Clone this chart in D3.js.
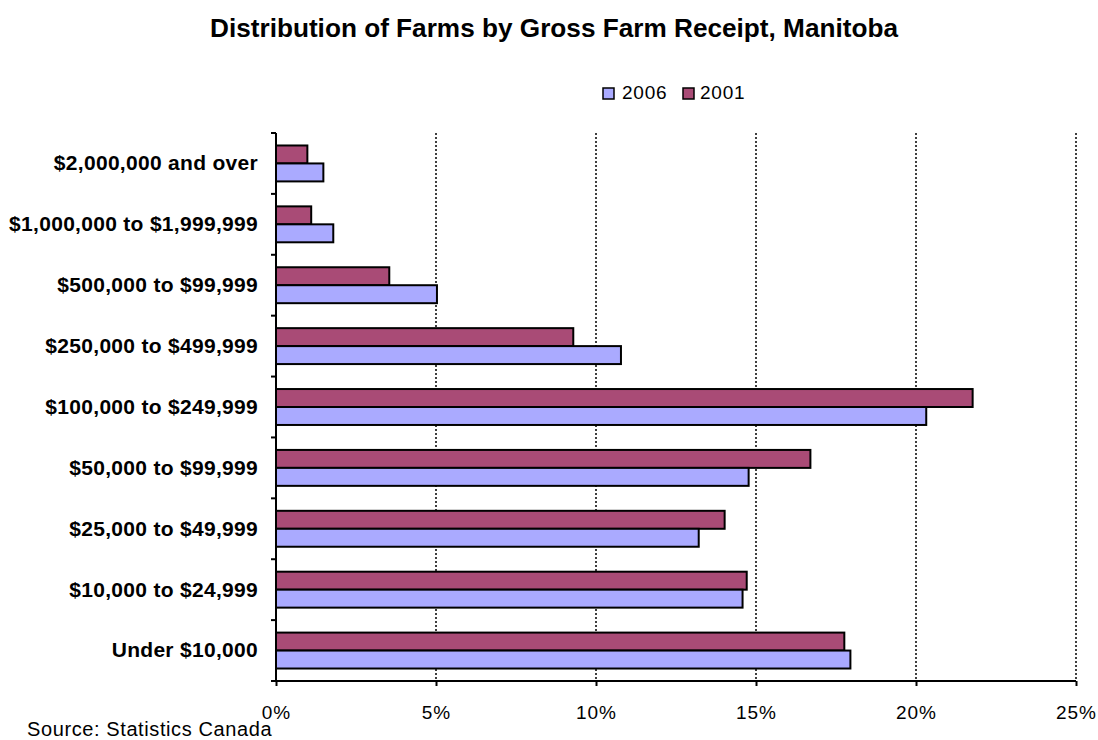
<!DOCTYPE html>
<html>
<head>
<meta charset="utf-8">
<script src="https://cdn.jsdelivr.net/npm/d3@7/dist/d3.min.js"></script>
<style>
  html, body { margin: 0; padding: 0; background: #fff; }
  svg { display: block; }
</style>
</head>
<body>
<svg id="chart" width="1098" height="740"></svg>
<script>
// Gross farm receipt classes, top to bottom
const categories = [
  "$2,000,000 and over",
  "$1,000,000 to $1,999,999",
  "$500,000 to $99,999",
  "$250,000 to $499,999",
  "$100,000 to $249,999",
  "$50,000 to $99,999",
  "$25,000 to $49,999",
  "$10,000 to $24,999",
  "Under $10,000"
];
// Share of farms (%) per class
const values2001 = [0.98, 1.10, 3.54, 9.29, 21.77, 16.70, 14.02, 14.71, 17.76];
const values2006 = [1.48, 1.79, 5.03, 10.78, 20.32, 14.77, 13.21, 14.58, 17.95];
const seriesNames = ["2006", "2001"];
const xTicks = [0, 5, 10, 15, 20, 25];

const colors = { "2006": "#AAAAFF", "2001": "#A94B76" };
const baseFont = "'Liberation Sans', Arial, sans-serif";

const svg = d3.select("#chart");
const plot = { left: 276, right: 1076, top: 133, bottom: 681 };

const x = d3.scaleLinear().domain([0, 25]).range([plot.left, plot.right]);
const y = d3.scaleBand().domain(categories).range([plot.top, plot.bottom])
  .paddingInner(0.41).paddingOuter(0.205);
const sub = d3.scaleBand().domain(["2001", "2006"]).range([0, y.bandwidth()]);

// Title
svg.append("text")
  .attr("x", 554).attr("y", 37)
  .attr("text-anchor", "middle")
  .attr("textLength", 688)
  .attr("lengthAdjust", "spacingAndGlyphs")
  .style("font-family", baseFont)
  .style("font-weight", "bold")
  .style("font-size", "25px")
  .text("Distribution of Farms by Gross Farm Receipt, Manitoba");

// Dotted vertical gridlines
svg.append("g").selectAll("line")
  .data(xTicks.filter(d => d > 0))
  .join("line")
  .attr("x1", d => x(d)).attr("x2", d => x(d))
  .attr("y1", plot.top).attr("y2", plot.bottom)
  .attr("stroke", "#000").attr("stroke-width", 1.5)
  .attr("stroke-dasharray", "2,2");

// Bars
const rows = categories.map((c, i) => ({ c, v2001: values2001[i], v2006: values2006[i] }));
const barG = svg.append("g");
[["2001", "v2001"], ["2006", "v2006"]].forEach(([name, key]) => {
  barG.selectAll(null)
    .data(rows)
    .join("rect")
    .attr("x", x(0))
    .attr("y", d => y(d.c) + sub(name))
    .attr("width", d => x(d[key]) - x(0))
    .attr("height", sub.bandwidth())
    .attr("fill", colors[name])
    .attr("stroke", "#000")
    .attr("stroke-width", 2);
});

// Y axis: category boundary ticks, labels centered in each band
const yAxisG = svg.append("g");
yAxisG.append("line")
  .attr("x1", plot.left).attr("x2", plot.left)
  .attr("y1", plot.top).attr("y2", plot.bottom)
  .attr("stroke", "#000").attr("stroke-width", 2);
const step = y.step();
yAxisG.selectAll(".btick")
  .data(d3.range(categories.length + 1))
  .join("line")
  .attr("x1", plot.left - 5).attr("x2", plot.left)
  .attr("y1", i => plot.top + i * step).attr("y2", i => plot.top + i * step)
  .attr("stroke", "#000").attr("stroke-width", 2);
yAxisG.selectAll("text")
  .data(categories)
  .join("text")
  .attr("x", 258)
  .attr("y", d => y(d) + y.bandwidth() / 2)
  .attr("dy", "0.33em")
  .attr("text-anchor", "end")
  .style("font-family", baseFont)
  .style("font-weight", "bold")
  .style("font-size", "21px")
  .style("letter-spacing", "0.3px")
  .text(d => d);

// X axis
const xAxis = d3.axisBottom(x).tickValues(xTicks).tickSize(5).tickFormat(d => d + "%");
const xAxisG = svg.append("g")
  .attr("transform", `translate(0,${plot.bottom})`)
  .call(xAxis);
xAxisG.select(".domain").attr("stroke", "#000").attr("stroke-width", 2)
  .attr("d", `M${plot.left},0H${plot.right}`);
xAxisG.selectAll(".tick line").attr("stroke", "#000").attr("stroke-width", 2);
xAxisG.selectAll(".tick text")
  .attr("y", 38).attr("dy", null)
  .style("font-family", baseFont)
  .style("font-size", "19px")
  .style("letter-spacing", "1px")
  .attr("fill", "#000");

// Legend
const legend = svg.append("g");
const legendItems = [
  { name: "2006", sx: 603, tx: 622 },
  { name: "2001", sx: 683, tx: 700 }
];
legendItems.forEach(it => {
  legend.append("rect")
    .attr("x", it.sx).attr("y", 88)
    .attr("width", 11).attr("height", 11)
    .attr("fill", colors[it.name])
    .attr("stroke", "#000").attr("stroke-width", 1.5);
  legend.append("text")
    .attr("x", it.tx).attr("y", 99)
    .style("font-family", baseFont)
    .style("font-size", "19px")
    .style("letter-spacing", "0.8px")
    .text(it.name);
});

// Source note
svg.append("text")
  .attr("x", 27).attr("y", 736)
  .style("font-family", baseFont)
  .style("font-size", "20px")
  .style("letter-spacing", "0.6px")
  .text("Source: Statistics Canada");
</script>
</body>
</html>
